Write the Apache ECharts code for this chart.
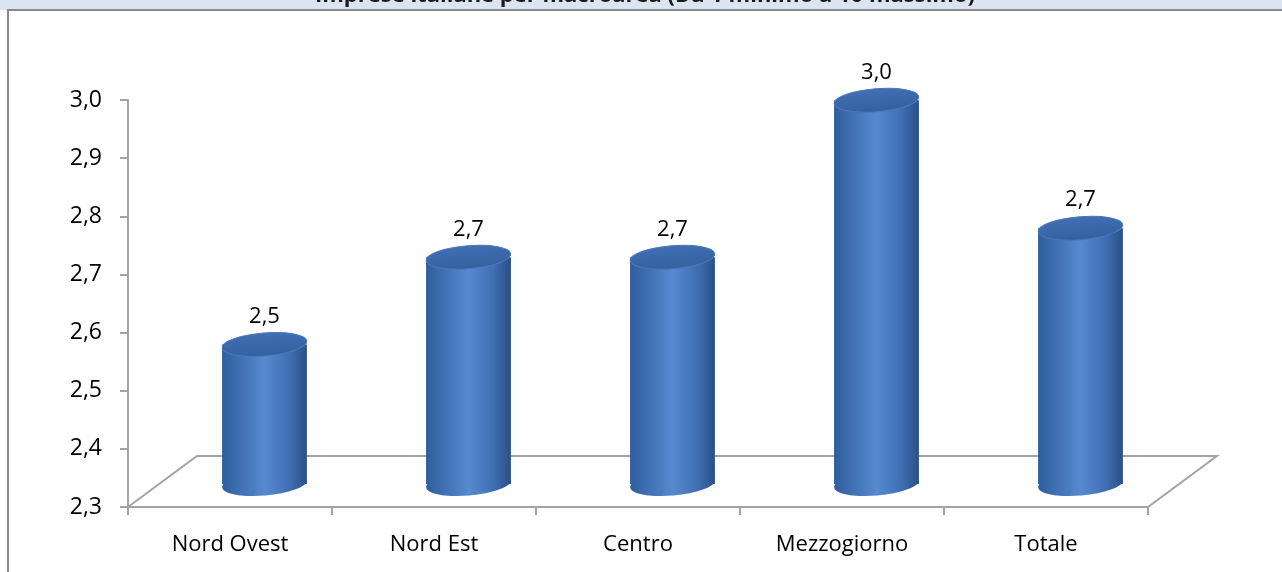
<!DOCTYPE html>
<html>
<head>
<meta charset="utf-8">
<script src="https://cdn.jsdelivr.net/npm/echarts@6/dist/echarts.min.js"></script>
<style>
  html, body { margin: 0; padding: 0; background: #fff; }
  #chart { width: 1282px; height: 572px; }
</style>
</head>
<body>
<div id="chart"></div>
<script>
// dati
const titleText = "Imprese italiane per macroarea (Da 1 minimo a 10 massimo)";
const categories = ["Nord Ovest", "Nord Est", "Centro", "Mezzogiorno", "Totale"];
const values = [2.54, 2.69, 2.69, 2.96, 2.74];
const yMin = 2.3;
const yMax = 3.0;
const yStep = 0.1;

const labelFont = "Open Sans";
const gridLine = "#a3a3a3";

// 2,7 al posto di 2.7
function fmt(v) {
  return v.toFixed(1).replace(".", ",");
}

const chart = echarts.init(document.getElementById("chart"));

// pavimento 3D dietro ai cilindri
function renderFloor(params, api) {
  const band = api.size([1, 0])[0];
  const first = api.coord([0, yMin]);
  const last = api.coord([categories.length - 1, yMin]);
  const left = first[0] - band / 2;
  const right = last[0] + band / 2;
  const y0 = first[1];
  const dx = band * 0.338;
  const dy = -51;
  return {
    type: "polyline",
    shape: {
      points: [
        [left, y0],
        [left + dx, y0 + dy],
        [right + dx, y0 + dy],
        [right, y0],
      ],
    },
    style: { stroke: gridLine, lineWidth: 2, fill: null },
  };
}

// un cilindro per ogni categoria
function renderCylinder(params, api) {
  const idx = api.value(0);
  const val = api.value(1);
  const top = api.coord([idx, val]);
  const base = api.coord([idx, yMin]);
  const band = api.size([1, 0])[0];
  const rx = band * 0.208;
  const ry = 11.5;
  const cx = top[0] + band * 0.169;
  const yTop = top[1] - 23;
  const yBot = base[1] - 23;
  const bodyFill = new echarts.graphic.LinearGradient(0, 0, 1, 0, [
    { offset: 0, color: "#305e9f" },
    { offset: 0.5, color: "#5689cf" },
    { offset: 0.8, color: "#3f6eb2" },
    { offset: 1, color: "#2a4f86" },
  ]);
  const topFill = new echarts.graphic.LinearGradient(0, 0, 0, 1, [
    { offset: 0, color: "#416fb3" },
    { offset: 1, color: "#33609f" },
  ]);
  return {
    type: "group",
    children: [
      {
        type: "ellipse",
        shape: { cx: cx, cy: yBot, rx: rx, ry: ry },
        originX: cx,
        originY: yBot,
        rotation: 0.08,
        style: { fill: bodyFill },
      },
      {
        type: "rect",
        shape: { x: cx - rx, y: yTop, width: rx * 2, height: yBot - yTop },
        style: { fill: bodyFill },
      },
      {
        type: "ellipse",
        shape: { cx: cx, cy: yTop, rx: rx, ry: ry },
        originX: cx,
        originY: yTop,
        rotation: 0.08,
        style: { fill: topFill, stroke: "#4a78bb", lineWidth: 1 },
      },
      {
        type: "text",
        x: cx,
        y: yTop - 28,
        style: {
          text: fmt(val),
          fill: "#000",
          fontSize: 22,
          fontFamily: labelFont,
          align: "center",
          verticalAlign: "middle",
        },
      },
    ],
  };
}

const option = {
  animation: false,
  graphic: [
    {
      type: "rect",
      z: -10,
      shape: { x: 0, y: 0, width: 1282, height: 10 },
      style: { fill: "#dbe5f1" },
    },
    // titolo tagliato in alto come nell'originale
    {
      type: "text",
      x: 645,
      y: -4,
      style: {
        text: titleText,
        fill: "#1a1a1a",
        fontSize: 22,
        fontWeight: "bold",
        fontFamily: labelFont,
        align: "center",
        verticalAlign: "middle",
      },
    },
    {
      type: "polyline",
      shape: { points: [[8, 572], [8, 10], [1282, 10]] },
      style: { stroke: "#8a8a8a", lineWidth: 2, fill: null },
    },
  ],
  grid: { left: 128, right: 134, top: 100, bottom: 65 },
  xAxis: {
    type: "category",
    data: categories,
    axisLine: { lineStyle: { color: gridLine, width: 2 } },
    axisTick: { show: true, length: 8, lineStyle: { color: gridLine, width: 2 } },
    axisLabel: { margin: 27, fontSize: 22, fontFamily: labelFont, color: "#000" },
  },
  yAxis: {
    type: "value",
    min: yMin,
    max: yMax,
    interval: yStep,
    splitLine: { show: false },
    axisLine: { show: true, lineStyle: { color: gridLine, width: 2 } },
    axisTick: { show: true, length: 8, lineStyle: { color: gridLine, width: 2 } },
    axisLabel: {
      margin: 26,
      fontSize: 23,
      fontFamily: labelFont,
      color: "#000",
      formatter: fmt,
    },
  },
  series: [
    {
      type: "custom",
      renderItem: renderFloor,
      data: [[0, yMin]],
      clip: false,
      z: 1,
    },
    {
      type: "custom",
      renderItem: renderCylinder,
      data: values.map((v, i) => [i, v]),
      clip: false,
      z: 2,
    },
  ],
};

chart.setOption(option);
</script>
</body>
</html>
